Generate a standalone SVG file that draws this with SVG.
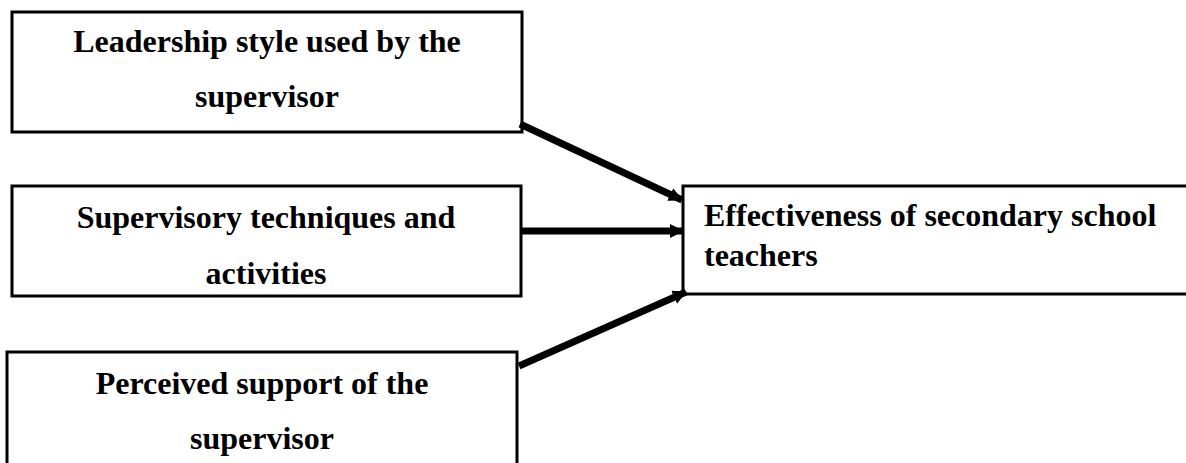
<svg xmlns="http://www.w3.org/2000/svg" width="1186" height="463" viewBox="0 0 1186 463">
<style>
.box{fill:#fff;stroke:#000;stroke-width:3}
.t{font-family:"Liberation Serif","Times New Roman",serif;font-weight:bold;font-size:32px;fill:#000}
.c{text-anchor:middle}
.conn{stroke:#000;stroke-width:7;fill:none}
</style>
<defs>
<marker id="ah" markerUnits="userSpaceOnUse" markerWidth="14" markerHeight="16" refX="13" refY="8" orient="auto">
<path d="M0,1 L14,8 L0,15 Z" fill="#000"/>
</marker>
</defs>
<rect width="1186" height="463" fill="#fff"/>
<g id="n1">
<rect class="box" x="12" y="12" width="510" height="120"/>
<text class="t c" x="267" y="52">Leadership style used by the</text>
<text class="t c" x="267" y="107">supervisor</text>
</g>
<g id="n2">
<rect class="box" x="12" y="186" width="509" height="110"/>
<text class="t c" x="266" y="228">Supervisory techniques and</text>
<text class="t c" x="266" y="284">activities</text>
</g>
<g id="n3">
<rect class="box" x="7" y="352" width="510" height="120"/>
<text class="t c" x="262" y="394">Perceived support of the</text>
<text class="t c" x="262" y="449">supervisor</text>
</g>
<g id="n4">
<rect class="box" x="683" y="186" width="520" height="108"/>
<text class="t" x="704" y="226">Effectiveness of secondary school</text>
<text class="t" x="704" y="266">teachers</text>
</g>
<g id="connectors">
<line class="conn" x1="520" y1="124" x2="682" y2="200" marker-end="url(#ah)"/>
<line class="conn" x1="522" y1="231" x2="683" y2="231" marker-end="url(#ah)"/>
<line class="conn" x1="519" y1="366" x2="686" y2="292" marker-end="url(#ah)"/>
</g>
</svg>
